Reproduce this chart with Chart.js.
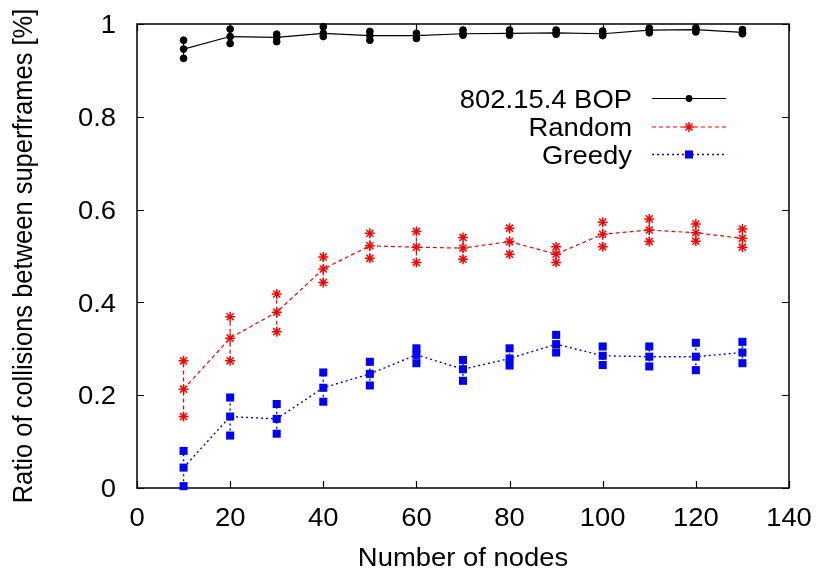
<!DOCTYPE html>
<html>
<head>
<meta charset="utf-8">
<script src="https://cdn.jsdelivr.net/npm/chart.js@4/dist/chart.umd.min.js"></script>
<style>
html,body{margin:0;padding:0;background:#fff;}
#wrap{width:819px;height:574px;position:relative;}
</style>
</head>
<body>
<div id="wrap"><canvas id="c" width="819" height="574"></canvas></div>
<script>
// ---- data ----
const nodes = [10, 20, 30, 40, 50, 60, 70, 80, 90, 100, 110, 120, 130];

const bopMean = [0.946, 0.973, 0.971, 0.980, 0.975, 0.975, 0.979, 0.980, 0.981, 0.979, 0.987, 0.988, 0.982];
const bopMin  = [0.926, 0.958, 0.962, 0.973, 0.965, 0.969, 0.976, 0.976, 0.978, 0.975, 0.981, 0.983, 0.979];
const bopMax  = [0.965, 0.989, 0.978, 0.994, 0.984, 0.980, 0.987, 0.987, 0.987, 0.985, 0.991, 0.992, 0.988];

const randMean = [0.213, 0.323, 0.379, 0.472, 0.522, 0.519, 0.517, 0.531, 0.504, 0.547, 0.556, 0.550, 0.538];
const randMin  = [0.154, 0.274, 0.337, 0.443, 0.495, 0.486, 0.493, 0.504, 0.486, 0.520, 0.531, 0.532, 0.519];
const randMax  = [0.274, 0.369, 0.418, 0.498, 0.549, 0.553, 0.540, 0.560, 0.520, 0.573, 0.580, 0.569, 0.558];

const greedyMean = [0.044, 0.154, 0.149, 0.216, 0.246, 0.287, 0.256, 0.279, 0.310, 0.285, 0.283, 0.283, 0.292];
const greedyMin  = [0.004, 0.113, 0.117, 0.186, 0.221, 0.269, 0.231, 0.264, 0.292, 0.265, 0.262, 0.254, 0.269];
const greedyMax  = [0.080, 0.195, 0.181, 0.249, 0.272, 0.301, 0.276, 0.301, 0.330, 0.305, 0.305, 0.313, 0.315];

const xTicks = [0, 20, 40, 60, 80, 100, 120, 140];
const xTickLabels = ['0', '20', '40', '60', '80', '100', '120', '140'];
const yTicks = [0, 0.2, 0.4, 0.6, 0.8, 1];
const yTickLabels = ['0', '0.2', '0.4', '0.6', '0.8', '1'];

const seriesNames = ['802.15.4 BOP', 'Random', 'Greedy'];
const xTitle = 'Number of nodes';
const yTitle = 'Ratio of collisions between superframes [%]';

// ---- styles ----
const FONT = "'Liberation Sans', Arial, Helvetica, sans-serif";
const FSIZE = 25.5;
const STRETCH = 1.075;
const styles = [
  {color: '#000000', dash: [], width: 1.2, point: 'circle', radius: 3.4, pbw: 1},
  {color: '#ff0000', dash: [4, 3], width: 1.2, point: 'star', radius: 5, pbw: 1.5},
  {color: '#0000ff', dash: [2, 3], width: 1.4, point: 'rect', radius: 5.7, pbw: 0}
];
const seriesData = [
  [bopMean, bopMin, bopMax],
  [randMean, randMin, randMax],
  [greedyMean, greedyMin, greedyMax]
];

function meanPts(ys) { return nodes.map((x, i) => ({x: x, y: ys[i]})); }
function barPts(lo, hi) {
  const d = [];
  nodes.forEach((x, i) => { d.push({x: x, y: lo[i]}, {x: x, y: hi[i]}, {x: x, y: null}); });
  return d;
}
function endPts(lo, hi) {
  const d = [];
  nodes.forEach((x, i) => { d.push({x: x, y: lo[i]}, {x: x, y: hi[i]}); });
  return d;
}

const datasets = [];
seriesData.forEach((sd, k) => {
  const st = styles[k];
  const [mean, lo, hi] = sd;
  datasets.push({
    label: seriesNames[k] + ' range', data: barPts(lo, hi), showLine: true, spanGaps: false,
    borderColor: st.color, borderWidth: st.width, borderDash: st.dash, pointRadius: 0, fill: false, clip: false
  });
  datasets.push({
    label: seriesNames[k] + ' ends', data: endPts(lo, hi), showLine: false,
    pointStyle: st.point, pointRadius: st.radius, backgroundColor: st.color,
    borderColor: st.color, pointBorderWidth: st.pbw, clip: false
  });
  datasets.push({
    label: seriesNames[k], data: meanPts(mean), showLine: true, tension: 0,
    borderColor: st.color, borderWidth: st.width, borderDash: st.dash,
    pointStyle: st.point, pointRadius: st.radius, backgroundColor: st.color,
    pointBorderColor: st.color, pointBorderWidth: st.pbw, fill: false, clip: false
  });
});

function drawMarker(ctx, st, x, y) {
  ctx.save();
  ctx.setLineDash([]);
  ctx.fillStyle = st.color;
  ctx.strokeStyle = st.color;
  const r = st.radius;
  if (st.point === 'circle') {
    ctx.beginPath(); ctx.arc(x, y, r, 0, Math.PI * 2); ctx.fill();
  } else if (st.point === 'rect') {
    const s = Math.SQRT1_2 * r;
    ctx.fillRect(x - s, y - s, 2 * s, 2 * s);
  } else if (st.point === 'star') {
    ctx.lineWidth = st.pbw;
    ctx.beginPath();
    ctx.moveTo(x - r, y); ctx.lineTo(x + r, y);
    ctx.moveTo(x, y - r); ctx.lineTo(x, y + r);
    const d = r * Math.SQRT1_2;
    ctx.moveTo(x - d, y - d); ctx.lineTo(x + d, y + d);
    ctx.moveTo(x - d, y + d); ctx.lineTo(x + d, y - d);
    ctx.stroke();
  }
  ctx.restore();
}

// text drawn with a slight horizontal stretch, like the reference picture
function stretchedText(ctx, text, x, y, align, rotate) {
  ctx.save();
  ctx.translate(x, y);
  ctx.scale(STRETCH, 1);
  if (rotate) ctx.rotate(-Math.PI / 2);
  ctx.textAlign = align;
  ctx.textBaseline = 'alphabetic';
  ctx.fillText(text, 0, 0);
  ctx.restore();
}

const framePlugin = {
  id: 'gnuframe',
  beforeDatasetsDraw(chart) {
    const ctx = chart.ctx;
    const a = chart.chartArea;
    const xs = chart.scales.x, ys = chart.scales.y;
    const T = 7;
    ctx.save();
    ctx.strokeStyle = '#000';
    ctx.lineWidth = 1.5;
    ctx.setLineDash([]);
    ctx.strokeRect(a.left, a.top, a.right - a.left, a.bottom - a.top);
    ctx.lineWidth = 1.2;
    ctx.beginPath();
    xTicks.forEach(v => {
      const px = Math.round(xs.getPixelForValue(v)) + 0.5;
      ctx.moveTo(px, a.bottom); ctx.lineTo(px, a.bottom - T);
      ctx.moveTo(px, a.top); ctx.lineTo(px, a.top + T);
    });
    yTicks.forEach(v => {
      const py = Math.round(ys.getPixelForValue(v)) + 0.5;
      ctx.moveTo(a.left, py); ctx.lineTo(a.left + T, py);
      ctx.moveTo(a.right, py); ctx.lineTo(a.right - T, py);
    });
    ctx.stroke();

    // tick labels and axis titles
    ctx.fillStyle = '#000';
    ctx.font = FSIZE + 'px ' + FONT;
    const capHalf = 0.358 * FSIZE;
    xTicks.forEach((v, i) => {
      stretchedText(ctx, xTickLabels[i], xs.getPixelForValue(v), a.bottom + 38, 'center', false);
    });
    yTicks.forEach((v, i) => {
      stretchedText(ctx, yTickLabels[i], a.left - 21, ys.getPixelForValue(v) + capHalf, 'right', false);
    });
    stretchedText(ctx, xTitle, (a.left + a.right) / 2, 566, 'center', false);
    stretchedText(ctx, yTitle, 32, (a.top + a.bottom) / 2, 'center', true);
    ctx.restore();
  },
  afterDraw(chart) {
    const ctx = chart.ctx;
    const textRight = 632, lx0 = 652, lx1 = 726, mx = 689;
    const rows = [98.5, 127, 154.5];
    ctx.save();
    ctx.font = FSIZE + 'px ' + FONT;
    ctx.fillStyle = '#000';
    seriesNames.forEach((name, k) => {
      const y = rows[k];
      const st = styles[k];
      stretchedText(ctx, name, textRight, y + 0.358 * FSIZE, 'right', false);
      ctx.save();
      ctx.strokeStyle = st.color;
      ctx.lineWidth = st.width;
      ctx.setLineDash(st.dash);
      ctx.beginPath(); ctx.moveTo(lx0, y); ctx.lineTo(lx1, y); ctx.stroke();
      ctx.restore();
      drawMarker(ctx, st, mx, y);
    });
    ctx.restore();
  }
};

Chart.defaults.font.family = FONT;
Chart.defaults.color = '#000';

new Chart(document.getElementById('c'), {
  type: 'scatter',
  data: {datasets: datasets},
  options: {
    responsive: false,
    devicePixelRatio: 1,
    animation: false,
    events: [],
    layout: {padding: {top: 24, right: 30, left: 0, bottom: 0}},
    plugins: {legend: {display: false}, tooltip: {enabled: false}},
    scales: {
      x: {
        type: 'linear', min: 0, max: 140,
        ticks: {display: false, stepSize: 20},
        grid: {display: false, drawTicks: false},
        border: {display: false},
        afterFit(s) { s.height = 86; }
      },
      y: {
        type: 'linear', min: 0, max: 1,
        ticks: {display: false, stepSize: 0.2},
        grid: {display: false, drawTicks: false},
        border: {display: false},
        afterFit(s) { s.width = 137; }
      }
    }
  },
  plugins: [framePlugin]
});
</script>
</body>
</html>
